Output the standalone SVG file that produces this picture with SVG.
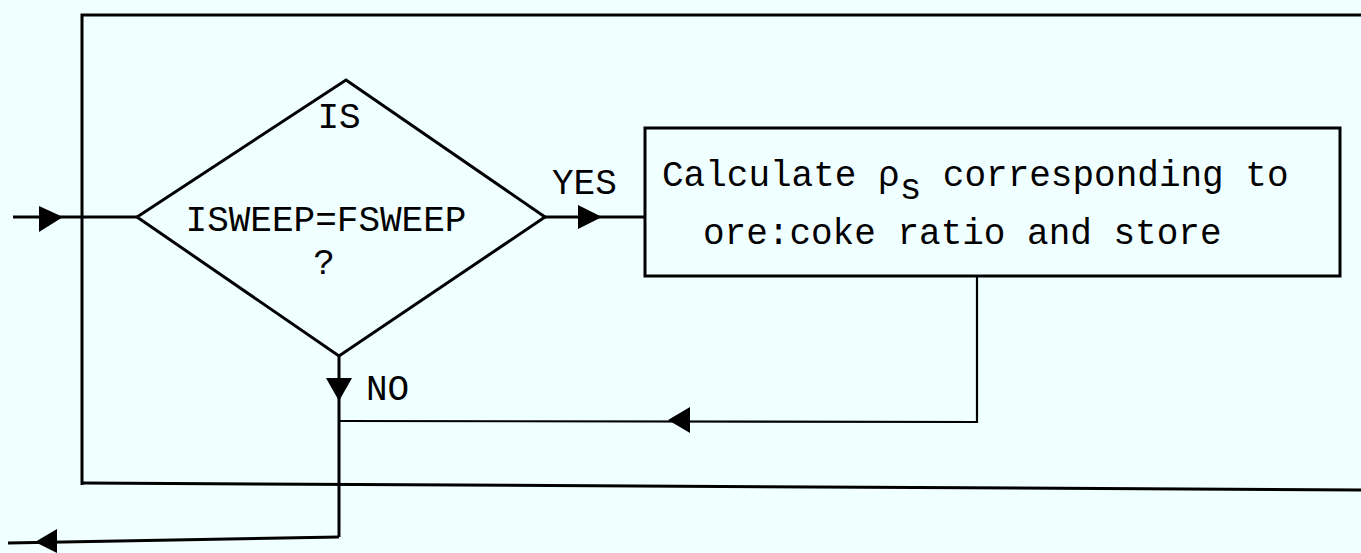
<svg xmlns="http://www.w3.org/2000/svg" width="1361" height="553" viewBox="0 0 1361 553">
<style>
.ln{fill:none;stroke:#000;stroke-width:3;stroke-linejoin:miter}
.thin{fill:none;stroke:#000;stroke-width:2.2}
.t{font-family:"Liberation Mono","DejaVu Sans Mono",monospace;font-size:36px;fill:#000}
.ah{fill:#000}
</style>
<rect width="1361" height="553" fill="#F0FFFF"/>
<g id="decision">
<polygon class="ln" points="346,80 545,217 339,356 137,217"/>
<text class="t" x="339" y="128" text-anchor="middle">IS</text>
<text class="t" x="326" y="231" text-anchor="middle">ISWEEP=FSWEEP</text>
<text class="t" x="324" y="274" text-anchor="middle">?</text>
</g>
<g id="process">
<rect class="ln" x="645" y="128" width="695" height="148"/>
<text class="t" x="662" y="186">Calculate ρ<tspan dy="13">s</tspan><tspan dy="-13"> corresponding to</tspan></text>
<text class="t" x="703" y="244">ore:coke ratio and store</text>
</g>
<g id="connectors">
<polyline class="ln" points="82,485 82,15 1361,15"/>
<polyline class="ln" points="82,483 1361,490"/>
<line class="ln" x1="13" y1="217" x2="137" y2="217"/>
<polygon class="ah" points="39,206 63,217 39,232"/>
<line class="ln" x1="545" y1="217" x2="645" y2="217"/>
<polygon class="ah" points="578,205 602,217 578,229"/>
<text class="t" x="552" y="194">YES</text>
<line class="ln" x1="339" y1="356" x2="339" y2="537"/>
<polygon class="ah" points="326,378 352,378 339,401"/>
<text class="t" x="366" y="400">NO</text>
<polyline class="thin" points="977,276 977,422 339,421"/>
<polygon class="ah" points="690,407 668,420 690,433"/>
<polyline class="ln" points="339,537 8,543"/>
<polygon class="ah" points="57,529 35,542 57,553"/>
</g>
</svg>
